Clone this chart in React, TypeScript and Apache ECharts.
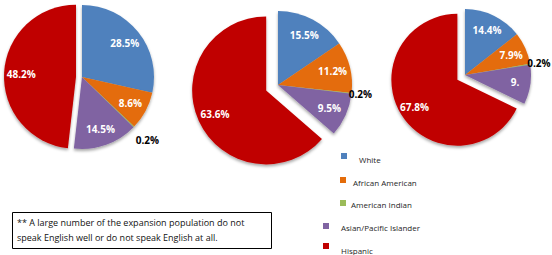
import React, { useEffect, useRef } from "react";
import * as echarts from "echarts";

// ---- data ----
const categories = ["White", "African American", "American Indian", "Asian/Pacific Islander", "Hispanic"];
const pie1Values = [28.5, 8.6, 0.2, 14.5, 48.2];
const pie2Values = [15.5, 11.2, 0.2, 9.5, 63.6];
const pie3Values = [14.4, 7.9, 0.2, 9.7, 67.8];
const noteLines = [
  "** A large number of the expansion population do not",
  "speak English well or do not speak English at all.",
];

// ---- styling / layout ----
const colors = ["#4F81BD", "#E46C0A", "#9BBB59", "#8064A2", "#C00000"];
const FONT = "'Open Sans', 'Liberation Sans', sans-serif";
const pies = [
  { values: pie1Values, center: [82, 77], r: 72, offset: 6, small: [1.1, 1.34] },
  { values: pie2Values, center: [278, 85], r: 74, offset: 13, small: [1.0, 1.16] },
  { values: pie3Values, center: [465, 75], r: 66, offset: 9, small: [1.0, 1.18] },
];
const legendPos = [
  [341, 153, 359, 159],
  [340, 177, 353, 182],
  [340, 200, 351, 204],
  [323, 223, 341, 227],
  [323, 243, 341, 250],
];
const SMALL_IDX = 2;
const EXPLODE_IDX = 4;

function buildSeries() {
  const series: any[] = [];
  pies.forEach((p, pi) => {
    const base = {
      type: "pie",
      center: p.center,
      startAngle: 90,
      clockwise: true,
      selectedMode: "multiple",
      selectedOffset: p.offset,
      silent: true,
      emphasis: { disabled: true },
      avoidLabelOverlap: false,
      labelLine: { show: false },
    };
    // visible slices
    series.push({
      ...base,
      name: "pie" + pi,
      radius: [0, p.r],
      label: { show: false },
      itemStyle: {
        borderWidth: 0,
        shadowBlur: 3,
        shadowOffsetY: 2,
        shadowColor: "rgba(0,0,0,0.35)",
      },
      data: p.values.map((v, i) => ({
        name: categories[i],
        value: v,
        selected: i === EXPLODE_IDX,
        itemStyle: { color: colors[i] },
      })),
    });
    // inner labels (transparent ring so labels sit ~0.72r)
    series.push({
      ...base,
      name: "lbl" + pi,
      radius: [p.r * 0.44, p.r],
      itemStyle: { color: "rgba(0,0,0,0)" },
      label: {
        show: true,
        position: "inside",
        color: "#ffffff",
        fontFamily: FONT,
        fontWeight: "bold",
        fontSize: 10,
        formatter: (prm: any) => prm.value + "%",
      },
      data: p.values.map((v, i) => ({
        name: categories[i],
        value: v,
        selected: i === EXPLODE_IDX,
        label:
          i === SMALL_IDX
            ? { show: false }
            : pi === 2 && i === 3
            ? { width: 13, overflow: "truncate", ellipsis: "" }
            : {},
      })),
    });
    // outer label for the tiny slice
    series.push({
      ...base,
      name: "out" + pi,
      radius: [p.r * p.small[0], p.r * p.small[1]],
      itemStyle: { color: "rgba(0,0,0,0)" },
      label: {
        show: true,
        position: "inside",
        color: "#000000",
        fontFamily: FONT,
        fontWeight: "bold",
        fontSize: 10,
        formatter: (prm: any) => prm.value + "%",
      },
      data: p.values.map((v, i) => ({
        name: categories[i],
        value: v,
        label: { show: i === SMALL_IDX },
      })),
    });
  });
  return series;
}

function buildGraphic() {
  const els: any[] = [];
  categories.forEach((c, i) => {
    const [mx, my, tx, ty] = legendPos[i];
    els.push({
      type: "rect",
      shape: { x: mx, y: my, width: 6, height: 6 },
      style: { fill: colors[i] },
    });
    els.push({
      type: "text",
      x: tx,
      y: ty,
      style: {
        text: c,
        fill: "#262626",
        font: `8px ${FONT}`,
        textVerticalAlign: "middle",
      },
    });
  });
  els.push({
    type: "rect",
    shape: { x: 12.5, y: 212.5, width: 259, height: 36 },
    style: { fill: "#ffffff", stroke: "#000000", lineWidth: 1 },
  });
  noteLines.forEach((t, i) => {
    els.push({
      type: "text",
      x: 17,
      y: 222 + i * 15,
      style: { text: t, fill: "#111111", font: `9px ${FONT}`, textVerticalAlign: "middle" },
    });
  });
  return els;
}

export default function App() {
  const ref = useRef<HTMLDivElement>(null);
  useEffect(() => {
    if (!ref.current) return;
    const chart = echarts.init(ref.current, undefined, { renderer: "svg" });
    chart.setOption({
      animation: false,
      backgroundColor: "#ffffff",
      series: buildSeries(),
      graphic: buildGraphic(),
    });
    return () => chart.dispose();
  }, []);
  return (
    <div
      ref={ref}
      style={{ position: "fixed", left: 0, top: 0, width: 552, height: 255 }}
    />
  );
}
